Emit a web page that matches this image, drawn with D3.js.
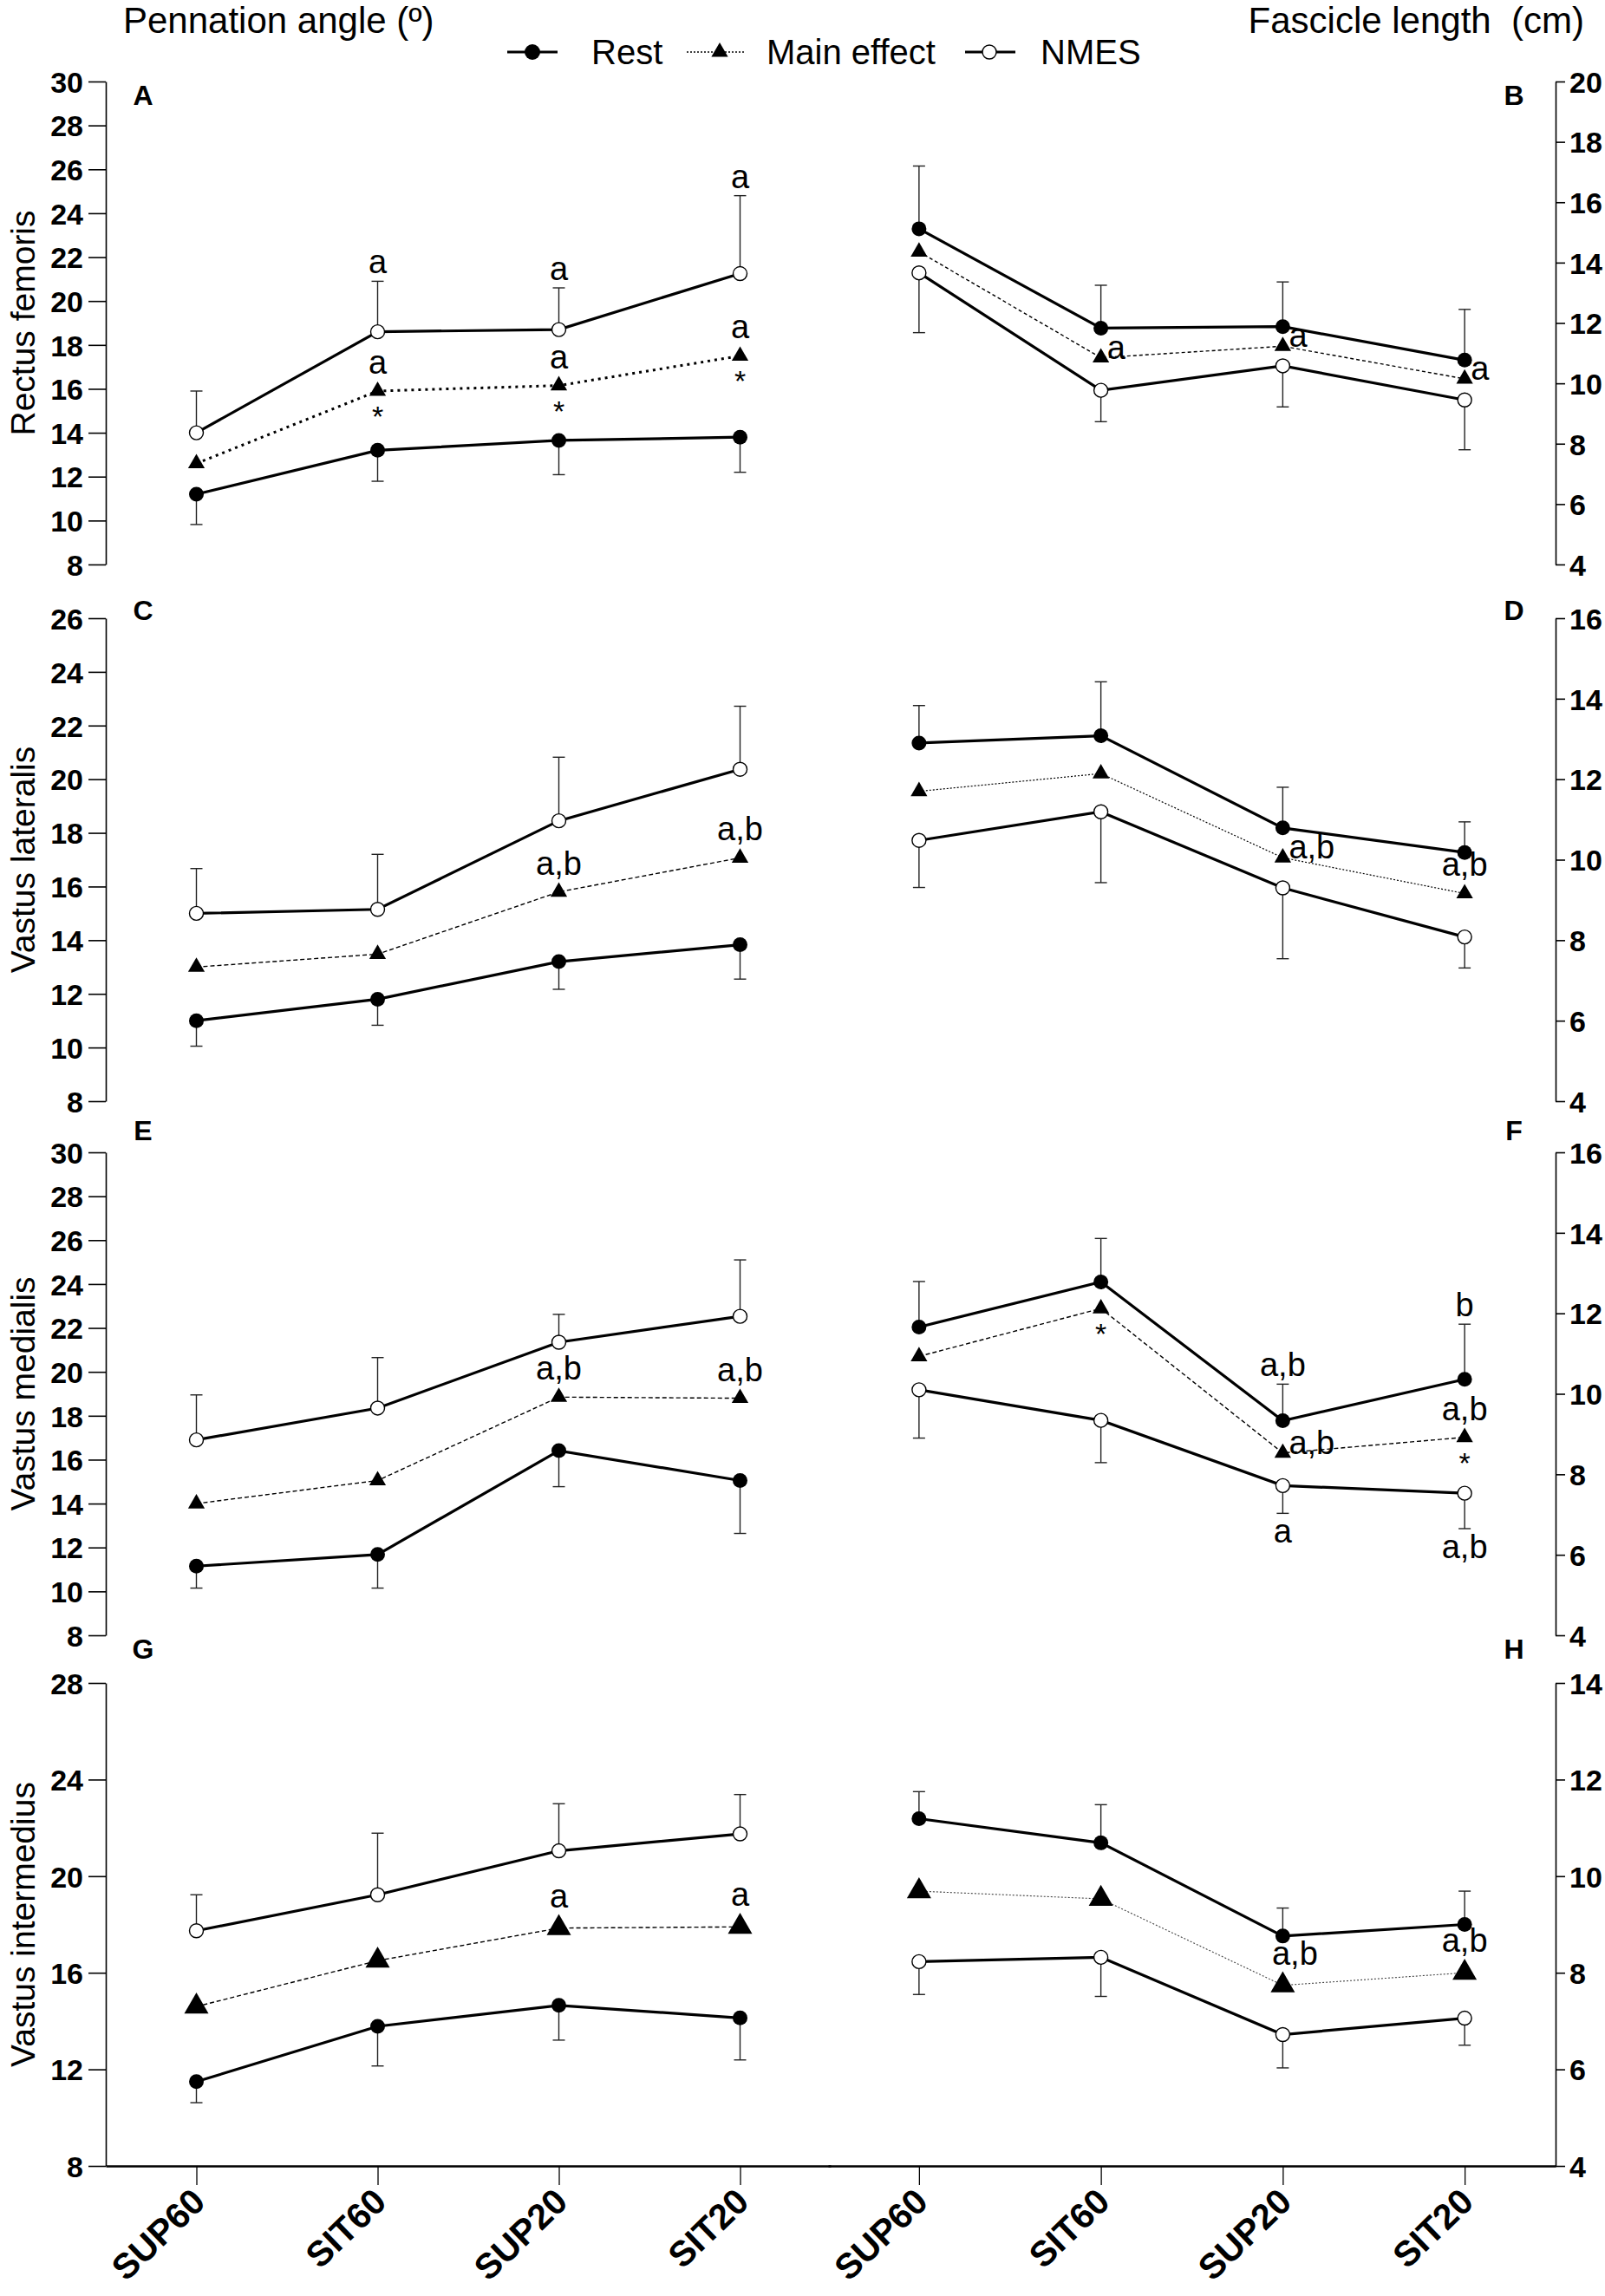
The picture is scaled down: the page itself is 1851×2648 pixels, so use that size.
<!DOCTYPE html>
<html>
<head>
<meta charset="utf-8">
<title>Pennation angle and fascicle length</title>
<script src="https://cdn.jsdelivr.net/npm/d3@7"></script>
<style>
  body { margin: 0; background: #fff; }
  svg text { font-family: "Liberation Sans", Arial, sans-serif; fill: #000; }
  .num text, text.num { font-family: "Liberation Sans Narrow", "Arial Narrow", "Liberation Sans", sans-serif; font-weight: bold; }
  .axis path, .axis line { stroke: #000; }
</style>
</head>
<body>
<svg id="chart" width="1851" height="2648"></svg>
<script>

var categories = ["SUP60", "SIT60", "SUP20", "SIT20"];
var seriesNames = ["Rest", "Main effect", "NMES"];
var muscles = ["Rectus femoris", "Vastus lateralis", "Vastus medialis", "Vastus intermedius"];
var leftTitle = "Pennation angle (º)";
var rightTitle = "Fascicle length  (cm)";

// pennation angle (deg), left column
var restA = [11.2, 13.2, 13.65, 13.8],   restSdA = [1.38, 1.41, 1.56, 1.6];
var mainA = [12.6, 15.9, 16.15, 17.5];
var nmesA = [14.0, 18.6, 18.7, 21.25],   nmesSdA = [1.9, 2.3, 1.9, 3.55];
var ticksA = [8, 10, 12, 14, 16, 18, 20, 22, 24, 26, 28, 30];

var restC = [11.0, 11.8, 13.2, 13.83],   restSdC = [0.95, 0.97, 1.03, 1.28];
var mainC = [13.0, 13.48, 15.8, 17.07];
var nmesC = [15.0, 15.15, 18.45, 20.37], nmesSdC = [1.67, 2.05, 2.37, 2.35];
var ticksC = [8, 10, 12, 14, 16, 18, 20, 22, 24, 26];

var restE = [11.15, 11.68, 16.41, 15.05], restSdE = [1.0, 1.53, 1.64, 2.41];
var mainE = [14.0, 15.05, 18.85, 18.8];
var nmesE = [16.9, 18.35, 21.35, 22.53],  nmesSdE = [2.05, 2.3, 1.27, 2.57];
var ticksE = [8, 10, 12, 14, 16, 18, 20, 22, 24, 26, 28, 30];

var restG = [11.49, 13.78, 14.65, 14.13], restSdG = [0.87, 1.64, 1.44, 1.74];
var mainG = [14.6, 16.5, 17.85, 17.9];
var nmesG = [17.74, 19.23, 21.05, 21.75], nmesSdG = [1.49, 2.55, 1.95, 1.63];
var ticksG = [8, 12, 16, 20, 24, 28];

// fascicle length (cm), right column
var restB = [15.12, 11.83, 11.88, 10.77], restSdB = [2.08, 1.42, 1.48, 1.68];
var mainB = [14.36, 10.85, 11.23, 10.15];
var nmesB = [13.66, 9.77, 10.58, 9.45],   nmesSdB = [1.98, 1.04, 1.36, 1.65];
var ticksB = [4, 6, 8, 10, 12, 14, 16, 18, 20];

var restD = [12.9, 13.08, 10.79, 10.18],  restSdD = [0.93, 1.34, 1.01, 0.76];
var mainD = [11.7, 12.14, 10.05, 9.16];
var nmesD = [10.48, 11.19, 9.3, 8.08],    nmesSdD = [1.17, 1.76, 1.76, 0.77];
var ticksD = [4, 6, 8, 10, 12, 14, 16];

var restF = [11.66, 12.78, 9.33, 10.36],  restSdF = [1.13, 1.08, 0.91, 1.37];
var mainF = [10.93, 12.12, 8.53, 8.92];
var nmesF = [10.1, 9.34, 7.72, 7.53],     nmesSdF = [1.2, 1.05, 0.69, 0.88];
var ticksF = [4, 6, 8, 10, 12, 14, 16];

var restH = [11.19, 10.69, 8.76, 9.0],    restSdH = [0.56, 0.79, 0.58, 0.69];
var mainH = [9.69, 9.53, 7.74, 8.0];
var nmesH = [8.23, 8.32, 6.72, 7.06],     nmesSdH = [0.68, 0.81, 0.69, 0.56];
var ticksH = [4, 6, 8, 10, 12, 14];

// significance marks: where they sit (series + side) and the text
var notesA = [
  ["SIT60", "nmes", "err", "a"], ["SUP20", "nmes", "err", "a"], ["SIT20", "nmes", "err", "a"],
  ["SIT60", "main", "above", "a"], ["SUP20", "main", "above", "a"], ["SIT20", "main", "above", "a"],
  ["SIT60", "main", "below", "*"], ["SUP20", "main", "below", "*"], ["SIT20", "main", "below", "*"]
];
var notesB = [["SIT60", "main", "right", "a"], ["SUP20", "main", "right", "a"], ["SIT20", "main", "right", "a"]];
var notesC = [["SUP20", "main", "above", "a,b"], ["SIT20", "main", "above", "a,b"]];
var notesD = [["SUP20", "main", "right", "a,b"], ["SIT20", "main", "above", "a,b"]];
var notesE = [["SUP20", "main", "above", "a,b"], ["SIT20", "main", "above", "a,b"]];
var notesF = [
  ["SIT60", "main", "below", "*"],
  ["SUP20", "rest", "err", "a,b"], ["SUP20", "main", "right", "a,b"], ["SUP20", "nmes", "err", "a"],
  ["SIT20", "rest", "err", "b"], ["SIT20", "main", "above", "a,b"], ["SIT20", "main", "below", "*"],
  ["SIT20", "nmes", "err", "a,b"]
];
var notesG = [["SUP20", "main", "above", "a"], ["SIT20", "main", "above", "a"]];
var notesH = [["SUP20", "main", "above", "a,b"], ["SIT20", "main", "above", "a,b"]];

var panels = [
  {id: "A", col: 0, row: 0, rest: restA, restSd: restSdA, main: mainA, nmes: nmesA, nmesSd: nmesSdA, ticks: ticksA, notes: notesA},
  {id: "B", col: 1, row: 0, rest: restB, restSd: restSdB, main: mainB, nmes: nmesB, nmesSd: nmesSdB, ticks: ticksB, notes: notesB},
  {id: "C", col: 0, row: 1, rest: restC, restSd: restSdC, main: mainC, nmes: nmesC, nmesSd: nmesSdC, ticks: ticksC, notes: notesC},
  {id: "D", col: 1, row: 1, rest: restD, restSd: restSdD, main: mainD, nmes: nmesD, nmesSd: nmesSdD, ticks: ticksD, notes: notesD},
  {id: "E", col: 0, row: 2, rest: restE, restSd: restSdE, main: mainE, nmes: nmesE, nmesSd: nmesSdE, ticks: ticksE, notes: notesE},
  {id: "F", col: 1, row: 2, rest: restF, restSd: restSdF, main: mainF, nmes: nmesF, nmesSd: nmesSdF, ticks: ticksF, notes: notesF},
  {id: "G", col: 0, row: 3, rest: restG, restSd: restSdG, main: mainG, nmes: nmesG, nmesSd: nmesSdG, ticks: ticksG, notes: notesG},
  {id: "H", col: 1, row: 3, rest: restH, restSd: restSdH, main: mainH, nmes: nmesH, nmesSd: nmesSdH, ticks: ticksH, notes: notesH}
];

// layout
var rowTop = [94, 713, 1329, 1941], rowH = 557;
var leftRange = [122, 958], rightRange = [955, 1794];
var letterDy = [15, -10, -26, -40];
var mainStyle = {
  A: {w: 3, dash: "3,5"}, B: {w: 1.4, dash: "4,3"}, C: {w: 1.4, dash: "5,3"}, D: {w: 1.2, dash: "2,2"},
  E: {w: 1.4, dash: "5,3"}, F: {w: 1.4, dash: "5,3"}, G: {w: 1.4, dash: "5,3"}, H: {w: 1.1, dash: "2,2"}
};

var svg = d3.select("#chart");

var xLeft = d3.scalePoint().domain(categories).range(leftRange).padding(0.5);
var xRight = d3.scalePoint().domain(categories).range(rightRange).padding(0.5);

var tri = d3.symbol().type(d3.symbolTriangle);

panels.forEach(function(p) {
  var x = p.col == 0 ? xLeft : xRight;
  var top = rowTop[p.row];
  var y = d3.scaleLinear()
      .domain([d3.min(p.ticks), d3.max(p.ticks)])
      .range([top + rowH, top]);
  var g = svg.append("g");
  var big = p.row == 3;
  var triSize = big ? 340 : 160;

  // y axis
  if (p.col == 0) {
    g.append("g").attr("class", "axis num")
        .attr("transform", "translate(" + leftRange[0] + ",0)")
        .call(d3.axisLeft(y).tickValues(p.ticks).tickSize(20).tickSizeOuter(0).tickPadding(6))
        .call(function(a) { a.selectAll("text").attr("font-size", 34).attr("dy", "0.36em"); })
        .call(function(a) { a.selectAll("path, line").attr("stroke-width", 1.6); });
    g.append("text")
        .attr("transform", "translate(40," + (top + rowH / 2) + ") rotate(-90)")
        .attr("text-anchor", "middle")
        .attr("font-size", 39)
        .text(muscles[p.row]);
  } else {
    g.append("g").attr("class", "axis num")
        .attr("transform", "translate(" + rightRange[1] + ",0)")
        .call(d3.axisRight(y).tickValues(p.ticks).tickSize(11).tickSizeOuter(0).tickPadding(5))
        .call(function(a) { a.selectAll("text").attr("font-size", 34).attr("dy", "0.36em"); })
        .call(function(a) { a.selectAll("path, line").attr("stroke-width", 1.6); });
  }

  // panel letter
  g.append("text")
      .attr("x", p.col == 0 ? 165 : 1746)
      .attr("y", top + letterDy[p.row] + 12)
      .attr("text-anchor", "middle")
      .attr("font-size", 32)
      .attr("font-weight", "bold")
      .text(p.id);

  var restUp = d3.mean(p.rest) > d3.mean(p.nmes);
  var bars = [
    {vals: p.rest, sd: p.restSd, dir: restUp ? 1 : -1},
    {vals: p.nmes, sd: p.nmesSd, dir: restUp ? -1 : 1}
  ];

  // error bars, one side only
  bars.forEach(function(b) {
    categories.forEach(function(c, i) {
      var cx = x(c), y0 = y(b.vals[i]), y1 = y(b.vals[i] + b.dir * b.sd[i]);
      g.append("line").attr("x1", cx).attr("x2", cx).attr("y1", y0).attr("y2", y1)
          .attr("stroke", "#222").attr("stroke-width", 1.4);
      g.append("line").attr("x1", cx - 7).attr("x2", cx + 7).attr("y1", y1).attr("y2", y1)
          .attr("stroke", "#222").attr("stroke-width", 1.4);
    });
  });

  var line = d3.line()
      .x(function(d, i) { return x(categories[i]); })
      .y(function(d) { return y(d); });

  g.append("path").datum(p.rest).attr("d", line)
      .attr("fill", "none").attr("stroke", "#000").attr("stroke-width", 3.2);
  g.append("path").datum(p.nmes).attr("d", line)
      .attr("fill", "none").attr("stroke", "#000").attr("stroke-width", 3.2);
  g.append("path").datum(p.main).attr("d", line)
      .attr("fill", "none").attr("stroke", p.id == "H" ? "#444" : "#000")
      .attr("stroke-width", mainStyle[p.id].w)
      .attr("stroke-dasharray", mainStyle[p.id].dash);

  g.selectAll(".rest").data(p.rest).enter().append("circle")
      .attr("cx", function(d, i) { return x(categories[i]); })
      .attr("cy", function(d) { return y(d); })
      .attr("r", 8.5).attr("fill", "#000");
  g.selectAll(".nmes").data(p.nmes).enter().append("circle")
      .attr("cx", function(d, i) { return x(categories[i]); })
      .attr("cy", function(d) { return y(d); })
      .attr("r", 8).attr("fill", "#fff").attr("stroke", "#000").attr("stroke-width", 1.4);
  g.selectAll(".main").data(p.main).enter().append("path")
      .attr("d", tri.size(triSize)())
      .attr("transform", function(d, i) { return "translate(" + x(categories[i]) + "," + y(d) + ")"; })
      .attr("fill", "#000");

  // significance letters
  p.notes.forEach(function(n) {
    var i = categories.indexOf(n[0]);
    var cx = x(n[0]);
    var tx = cx, ty, anchor = "middle", size = 38;
    if (n[2] == "err") {
      var b = n[1] == "rest" ? bars[0] : bars[1];
      var ye = y(b.vals[i] + b.dir * b.sd[i]);
      ty = b.dir > 0 ? ye - 9 : ye + 34;
    } else {
      var ym = y(p.main[i]);
      if (n[2] == "above") { ty = ym - (big ? 24 : 20); if (p.id == "H" && n[0] == "SUP20") tx = cx + 14; }
      else if (n[2] == "below") { ty = ym + 41; size = 34; }
      else { tx = cx + 7; ty = ym + 1; anchor = "start"; }
    }
    g.append("text").attr("x", tx).attr("y", ty)
        .attr("text-anchor", anchor).attr("font-size", size).text(n[3]);
  });
});

// x axes along the bottom
var xBase = rowTop[3] + rowH;
[xLeft, xRight].forEach(function(x, k) {
  var ax = svg.append("g").attr("class", "axis")
      .attr("transform", "translate(0," + xBase + ")")
      .call(d3.axisBottom(x).tickSize(22).tickSizeOuter(0).tickFormat(""));
  ax.select(".domain").attr("stroke-width", 2.6);
  ax.selectAll(".tick line").attr("stroke-width", 1.3)
      .attr("stroke", function(d) { return (k == 0 && d == "SIT20") || (k == 1 && d == "SUP20") ? "#e4e4e4" : "#000"; });
  ax.selectAll(".tick").append("text")
      .attr("transform", "translate(12,44) rotate(-44)")
      .attr("text-anchor", "end")
      .attr("font-size", 41)
      .attr("font-weight", "bold")
      .text(function(d) { return d; });
});

// column titles
svg.append("text").attr("x", 142).attr("y", 38).attr("font-size", 42).text(leftTitle);
svg.append("text").attr("x", 1827).attr("y", 38).attr("font-size", 42)
    .attr("text-anchor", "end").style("white-space", "pre").text(rightTitle);

// legend
var legendX = [585, 792, 1113];
var legend = svg.append("g").attr("transform", "translate(0,60)");
seriesNames.forEach(function(name, i) {
  var lx = legendX[i];
  var lg = legend.append("g").attr("transform", "translate(" + lx + ",0)");
  lg.append("line").attr("x1", 0).attr("x2", i == 1 ? 66 : 58).attr("y1", 0).attr("y2", 0)
      .attr("stroke", "#000")
      .attr("stroke-width", i == 1 ? 1.4 : 3)
      .attr("stroke-dasharray", i == 1 ? "2,2" : null);
  if (i == 0) lg.append("circle").attr("cx", 29).attr("r", 9).attr("fill", "#000");
  if (i == 1) lg.append("path").attr("d", tri.size(160)()).attr("transform", "translate(38,0)").attr("fill", "#000");
  if (i == 2) lg.append("circle").attr("cx", 28).attr("r", 8).attr("fill", "#fff").attr("stroke", "#000").attr("stroke-width", 1.4);
  lg.append("text").attr("x", i == 1 ? 92 : (i == 0 ? 97 : 87)).attr("y", 14)
      .attr("font-size", 40).text(name);
});

</script>
</body>
</html>
